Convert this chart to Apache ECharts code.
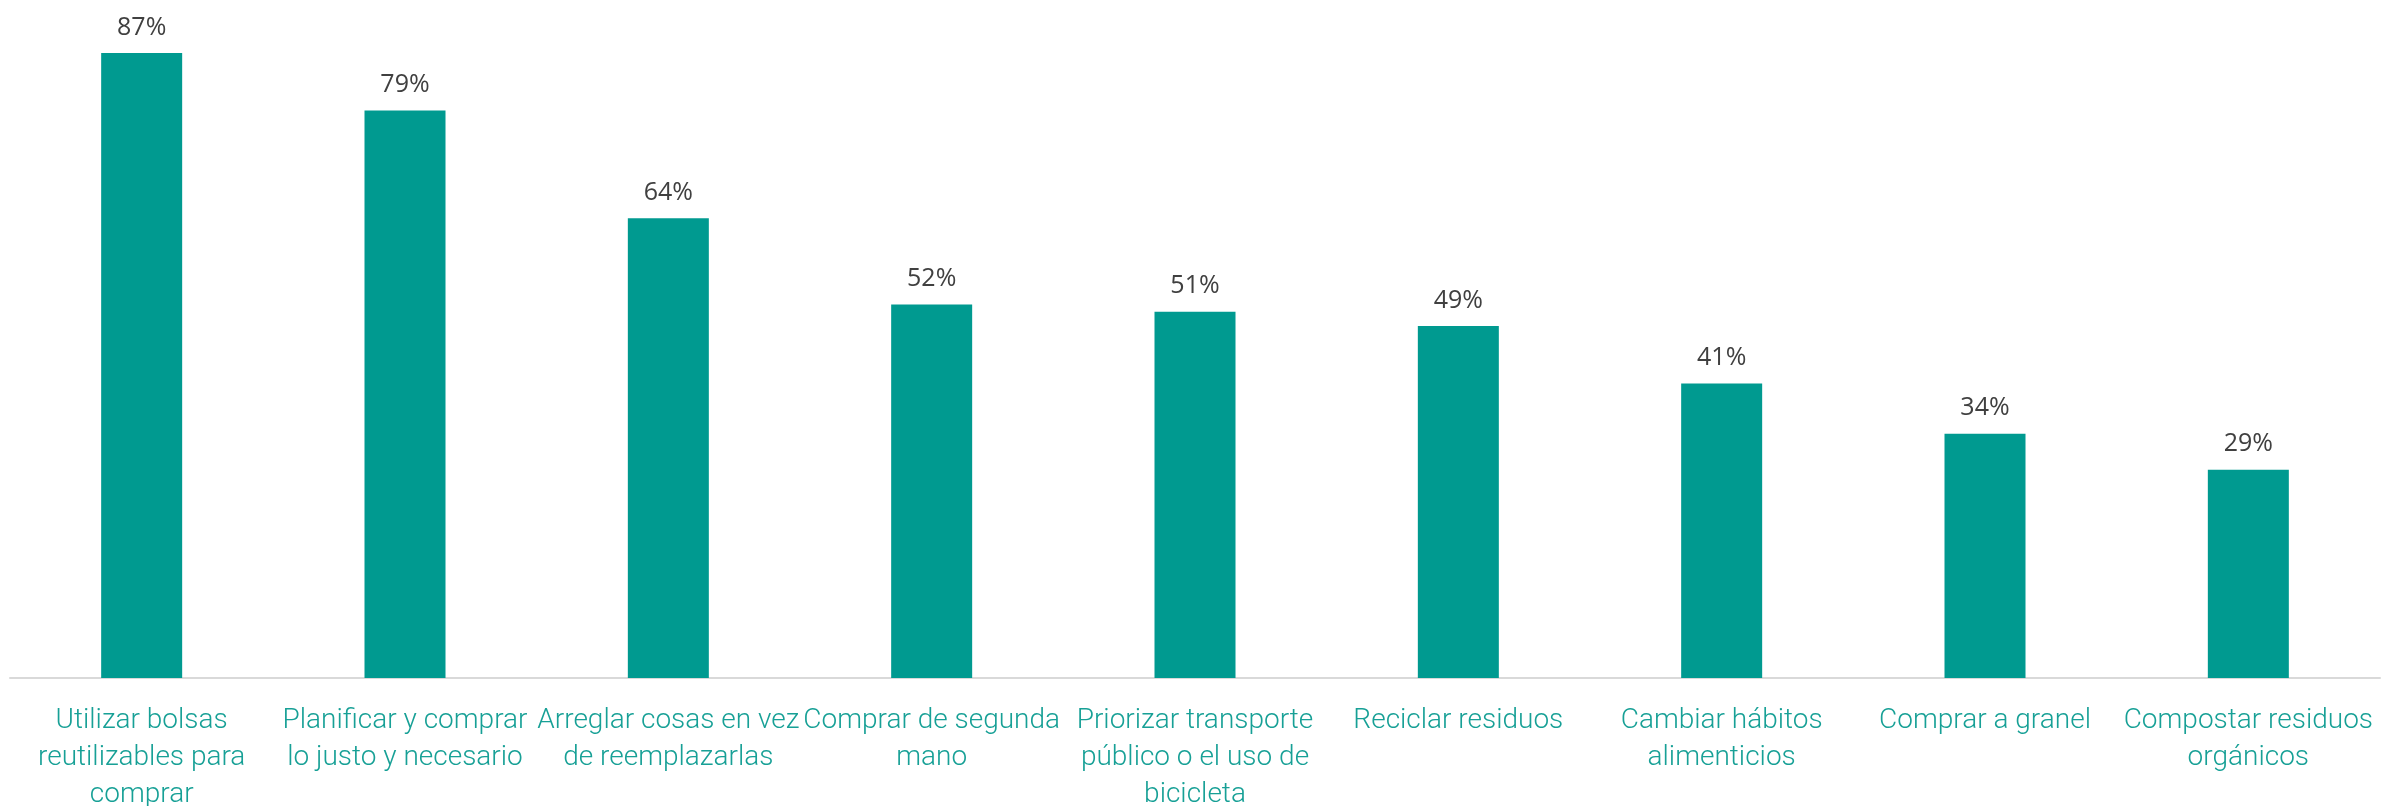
<!DOCTYPE html>
<html>
<head>
<meta charset="utf-8">
<script src="https://cdn.jsdelivr.net/npm/echarts@6/dist/echarts.min.js"></script>
<style>
  html, body { margin: 0; padding: 0; background: #fff; }
  #chart { width: 2400px; height: 806px; }
</style>
</head>
<body>
<div id="chart"></div>
<script>
// categories (line breaks as in the original labels)
const categories = [
  'Utilizar bolsas\nreutilizables para\ncomprar',
  'Planificar y comprar\nlo justo y necesario',
  'Arreglar cosas en vez\nde reemplazarlas',
  'Comprar de segunda\nmano',
  'Priorizar transporte\npúblico o el uso de\nbicicleta',
  'Reciclar residuos',
  'Cambiar hábitos\nalimenticios',
  'Comprar a granel',
  'Compostar residuos\norgánicos'
]
const values = [87, 79, 64, 52, 51, 49, 41, 34, 29]

const chart = echarts.init(document.getElementById('chart'))
chart.setOption({
  animation: false,
  grid: { left: 10, right: 20, top: 10, bottom: 128, outerBoundsMode: 'none' },
  xAxis: {
    type: 'category',
    data: categories,
    axisLine: { lineStyle: { color: '#d9d9d9', width: 2 } },
    axisTick: { show: false },
    axisLabel: {
      interval: 0,
      margin: 24,
      color: '#17a096',
      fontFamily: 'Roboto',
      fontWeight: 300,
      fontSize: 28,
      lineHeight: 37
    }
  },
  yAxis: {
    type: 'value',
    min: 0,
    max: 93,
    show: false,
    splitLine: { show: false }
  },
  series: [{
    type: 'bar',
    data: values,
    barWidth: 81,
    itemStyle: { color: '#009a90' },
    label: {
      show: true,
      position: 'top',
      distance: 13,
      formatter: '{c}%',
      color: '#404040',
      fontFamily: 'Open Sans',
      fontSize: 25
    }
  }]
})
</script>
</body>
</html>
